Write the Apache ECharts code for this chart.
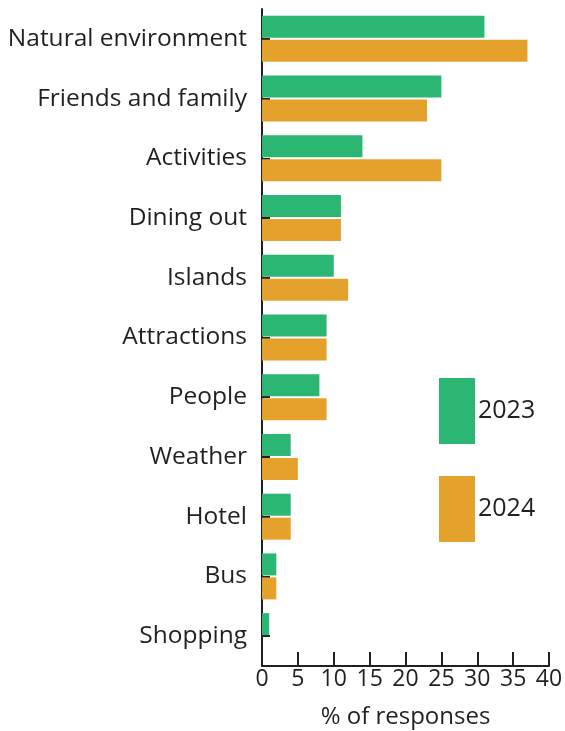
<!DOCTYPE html>
<html>
<head>
<meta charset="utf-8">
<script src="https://cdn.jsdelivr.net/npm/echarts@6/dist/echarts.min.js"></script>
<style>
  html, body { margin: 0; padding: 0; background: #fff; }
  #chart { width: 565px; height: 731px; }
</style>
</head>
<body>
<div id="chart"></div>
<script>
const categories = ['Natural environment', 'Friends and family', 'Activities', 'Dining out', 'Islands',
  'Attractions', 'People', 'Weather', 'Hotel', 'Bus', 'Shopping']
const values2023 = [31, 25, 14, 11, 10, 9, 8, 4, 4, 2, 1]
const values2024 = [37, 23, 25, 11, 12, 9, 9, 5, 4, 2, 0]
const xTicks = [0, 40, 5]

const textColor = '#231f20'
const fontFamily = '"Open Sans", Lato, sans-serif'

const chart = echarts.init(document.getElementById('chart'))

const option = {
  animation: false,
  textStyle: { fontFamily: fontFamily, color: textColor },
  grid: {
    left: 262,
    right: 16,
    top: 9,
    bottom: 65,
    containLabel: false,
    outerBoundsMode: 'none'
  },
  legend: {
    orient: 'vertical',
    left: 439,
    top: 378,
    padding: 0,
    itemWidth: 36,
    itemHeight: 66,
    itemGap: 32,
    icon: 'rect',
    textStyle: { fontSize: 25, color: textColor, fontFamily: fontFamily, padding: [0, 0, 0, -2] },
    data: ['2023', '2024']
  },
  xAxis: {
    type: 'value',
    min: xTicks[0],
    max: xTicks[1],
    interval: xTicks[2],
    name: '% of responses',
    nameLocation: 'middle',
    nameGap: 39,
    nameTextStyle: { fontSize: 24, color: textColor },
    axisLine: { show: true, lineStyle: { color: textColor, width: 2 } },
    axisTick: { show: true, inside: true, length: 14, lineStyle: { color: textColor, width: 2 } },
    axisLabel: { fontSize: 23, color: textColor, margin: 2 },
    splitLine: { show: false }
  },
  yAxis: {
    type: 'category',
    inverse: true,
    data: categories,
    axisLine: { show: true, lineStyle: { color: textColor, width: 2 } },
    axisTick: { show: true, inside: true, length: 8, alignWithLabel: true, lineStyle: { color: textColor, width: 2 } },
    axisLabel: { fontSize: 24.5, color: textColor, margin: 15 }
  },
  series: [
    {
      name: '2023',
      type: 'bar',
      data: values2023,
      itemStyle: { color: '#2bb673' },
      barGap: '9%',
      barCategoryGap: '23%'
    },
    {
      name: '2024',
      type: 'bar',
      data: values2024,
      itemStyle: { color: '#e4a22d' },
      barGap: '9%',
      barCategoryGap: '23%'
    }
  ]
}

chart.setOption(option)
</script>
</body>
</html>
